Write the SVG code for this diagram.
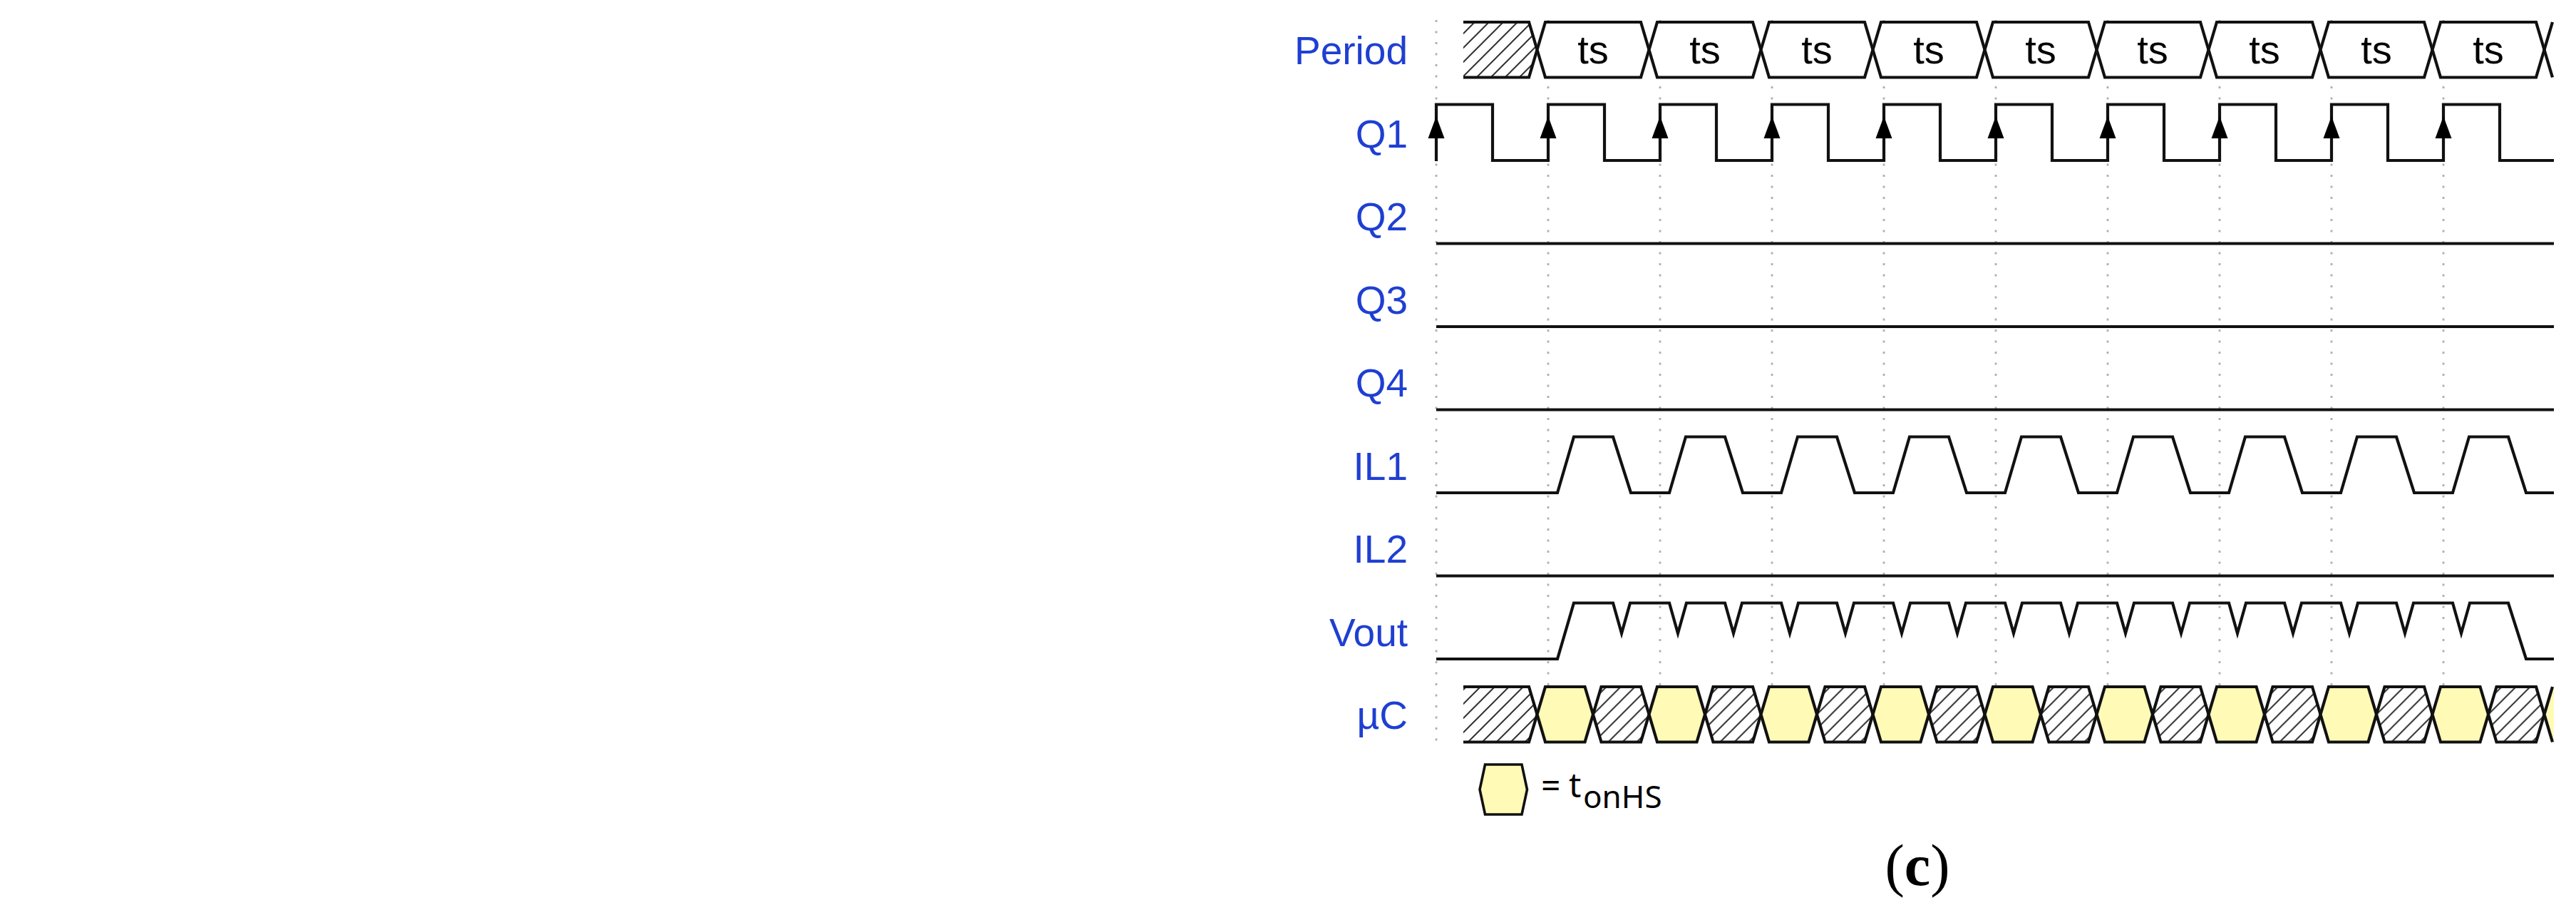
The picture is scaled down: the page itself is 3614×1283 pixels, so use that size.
<svg xmlns="http://www.w3.org/2000/svg" xmlns:xlink="http://www.w3.org/1999/xlink" width="3614" height="1283" viewBox="0 0 3614 1283">
<style>
.lbl{font-family:"Liberation Sans",Arial,sans-serif;font-size:55px;fill:#1f3fd2;text-anchor:end}
.ts{font-family:"Liberation Sans",Arial,sans-serif;font-size:56px;fill:#000;text-anchor:middle}
.grid{stroke:#b0b0b0;stroke-width:2.8;stroke-dasharray:3 12.5;fill:none}
.sig{fill:none;stroke:#111;stroke-width:4.2;stroke-linejoin:miter}
.hexw{fill:#fff;stroke:#111;stroke-width:4.2}
.hexy{fill:#fffab5;stroke:#111;stroke-width:4.2}
.hexh{fill:url(#hatch);stroke:#111;stroke-width:4.2}
.arr{fill:#000}
</style>
<defs>
<pattern id="hatch" patternUnits="userSpaceOnUse" width="20" height="20">
<rect width="20" height="20" fill="#fff"/>
<path d="M-5,5 L5,-5 M0,20 L20,0 M15,25 L25,15" stroke="#333" stroke-width="2"/>
</pattern>
<path id="bighex" d="M0,0 L11.5,-38.75 L145.5,-38.75 L157,0 L145.5,38.75 L11.5,38.75 Z"/>
<path id="smallhex" d="M0,0 L11.5,-38.75 L67,-38.75 L78.5,0 L67,38.75 L11.5,38.75 Z"/>
<path id="arrow" d="M0,0 L-11.5,31 L11.5,31 Z"/>
</defs>
<rect width="3614" height="1283" fill="#fff"/>

<g id="grid">
<path class="grid" d="M2015,28 V1042 M2172,28 V1042 M2329,28 V1042 M2486,28 V1042 M2643,28 V1042 M2800,28 V1042 M2957,28 V1042 M3114,28 V1042 M3271,28 V1042 M3428,28 V1042"/>
</g>

<g id="labels">
<text class="lbl" x="1975" y="89.5">Period</text>
<text class="lbl" x="1975" y="206.5">Q1</text>
<text class="lbl" x="1975" y="323">Q2</text>
<text class="lbl" x="1975" y="439.5">Q3</text>
<text class="lbl" x="1975" y="556">Q4</text>
<text class="lbl" x="1975" y="672.5">IL1</text>
<text class="lbl" x="1975" y="789">IL2</text>
<text class="lbl" x="1975" y="905.5">Vout</text>
<text class="lbl" x="1975" y="1021.5">µC</text>
</g>

<g id="period">
<path d="M2053,31 H2145 L2156.5,69.75 L2145,108.5 H2053 Z" fill="url(#hatch)"/>
<path class="sig" d="M2053,31 H2145 L2156.5,69.75 L2145,108.5 H2053"/>
<use href="#bighex" class="hexw" x="2156.5" y="69.75"/>
<use href="#bighex" class="hexw" x="2313.5" y="69.75"/>
<use href="#bighex" class="hexw" x="2470.5" y="69.75"/>
<use href="#bighex" class="hexw" x="2627.5" y="69.75"/>
<use href="#bighex" class="hexw" x="2784.5" y="69.75"/>
<use href="#bighex" class="hexw" x="2941.5" y="69.75"/>
<use href="#bighex" class="hexw" x="3098.5" y="69.75"/>
<use href="#bighex" class="hexw" x="3255.5" y="69.75"/>
<use href="#bighex" class="hexw" x="3412.5" y="69.75"/>
<path class="sig" d="M3581,31 L3569.5,69.75 L3581,108.5"/>
<text class="ts" x="2235" y="89">ts</text>
<text class="ts" x="2392" y="89">ts</text>
<text class="ts" x="2549" y="89">ts</text>
<text class="ts" x="2706" y="89">ts</text>
<text class="ts" x="2863" y="89">ts</text>
<text class="ts" x="3020" y="89">ts</text>
<text class="ts" x="3177" y="89">ts</text>
<text class="ts" x="3334" y="89">ts</text>
<text class="ts" x="3491" y="89">ts</text>
</g>

<g id="q1">
<path class="sig" d="M2015,226 V146.5 H2094 V225 H2172 V146.5 H2251 V225 H2329 V146.5 H2408 V225 H2486 V146.5 H2565 V225 H2643 V146.5 H2722 V225 H2800 V146.5 H2879 V225 H2957 V146.5 H3036 V225 H3114 V146.5 H3193 V225 H3271 V146.5 H3350 V225 H3428 V146.5 H3507 V225 H3583"/>
<use href="#arrow" class="arr" x="2015" y="163"/>
<use href="#arrow" class="arr" x="2172" y="163"/>
<use href="#arrow" class="arr" x="2329" y="163"/>
<use href="#arrow" class="arr" x="2486" y="163"/>
<use href="#arrow" class="arr" x="2643" y="163"/>
<use href="#arrow" class="arr" x="2800" y="163"/>
<use href="#arrow" class="arr" x="2957" y="163"/>
<use href="#arrow" class="arr" x="3114" y="163"/>
<use href="#arrow" class="arr" x="3271" y="163"/>
<use href="#arrow" class="arr" x="3428" y="163"/>
</g>

<g id="q2"><path class="sig" d="M2015,341.5 H3583"/></g>
<g id="q3"><path class="sig" d="M2015,458 H3583"/></g>
<g id="q4"><path class="sig" d="M2015,574.5 H3583"/></g>

<g id="il1">
<path class="sig" d="M2015,691 H2185 L2208,612.5 H2263 L2288,691 H2342 L2365,612.5 H2420 L2445,691 H2499 L2522,612.5 H2577 L2602,691 H2656 L2679,612.5 H2734 L2759,691 H2813 L2836,612.5 H2891 L2916,691 H2970 L2993,612.5 H3048 L3073,691 H3127 L3150,612.5 H3205 L3230,691 H3284 L3307,612.5 H3362 L3387,691 H3441 L3464,612.5 H3519 L3544,691 H3583"/>
</g>

<g id="il2"><path class="sig" d="M2015,807.5 H3583"/></g>

<g id="vout">
<path class="sig" d="M2015,924 H2185 L2208,845.5 H2263 L2275,888 L2287,845.5 H2342 L2354,888 L2366,845.5 H2420 L2432,888 L2444,845.5 H2499 L2511,888 L2523,845.5 H2577 L2589,888 L2601,845.5 H2656 L2668,888 L2680,845.5 H2734 L2746,888 L2758,845.5 H2813 L2825,888 L2837,845.5 H2891 L2903,888 L2915,845.5 H2970 L2982,888 L2994,845.5 H3048 L3060,888 L3072,845.5 H3127 L3139,888 L3151,845.5 H3205 L3217,888 L3229,845.5 H3284 L3296,888 L3308,845.5 H3362 L3374,888 L3386,845.5 H3441 L3453,888 L3465,845.5 H3519 L3544,924 H3583"/>
</g>

<g id="uc">
<path d="M2053,963 H2145 L2156.5,1001.75 L2145,1040.5 H2053 Z" fill="url(#hatch)"/>
<path class="sig" d="M2053,963 H2145 L2156.5,1001.75 L2145,1040.5 H2053"/>
<use href="#smallhex" class="hexy" x="2156.5" y="1001.75"/>
<use href="#smallhex" class="hexh" x="2235" y="1001.75"/>
<use href="#smallhex" class="hexy" x="2313.5" y="1001.75"/>
<use href="#smallhex" class="hexh" x="2392" y="1001.75"/>
<use href="#smallhex" class="hexy" x="2470.5" y="1001.75"/>
<use href="#smallhex" class="hexh" x="2549" y="1001.75"/>
<use href="#smallhex" class="hexy" x="2627.5" y="1001.75"/>
<use href="#smallhex" class="hexh" x="2706" y="1001.75"/>
<use href="#smallhex" class="hexy" x="2784.5" y="1001.75"/>
<use href="#smallhex" class="hexh" x="2863" y="1001.75"/>
<use href="#smallhex" class="hexy" x="2941.5" y="1001.75"/>
<use href="#smallhex" class="hexh" x="3020" y="1001.75"/>
<use href="#smallhex" class="hexy" x="3098.5" y="1001.75"/>
<use href="#smallhex" class="hexh" x="3177" y="1001.75"/>
<use href="#smallhex" class="hexy" x="3255.5" y="1001.75"/>
<use href="#smallhex" class="hexh" x="3334" y="1001.75"/>
<use href="#smallhex" class="hexy" x="3412.5" y="1001.75"/>
<use href="#smallhex" class="hexh" x="3491" y="1001.75"/>
<path d="M3569.5,1001.75 L3581,963 H3583 V1040.5 H3581 Z" fill="#fffab5"/>
<path class="sig" d="M3581,963 L3569.5,1001.75 L3581,1040.5"/>
</g>

<g id="legend">
<path d="M2083.5,1072 H2135 L2142.5,1107 L2135,1142 H2083.5 L2076,1107 Z" fill="#fffab5" stroke="#111" stroke-width="3.6"/>
<text font-family="'Noto Sans','Open Sans',sans-serif" fill="#000"><tspan x="2162" y="1118" font-size="48">=</tspan><tspan x="2201" y="1118" font-size="48">t</tspan><tspan x="2221" y="1132.5" font-size="44">onHS</tspan></text>
</g>

<g id="caption">
<text x="2690" y="1241" font-family="'Liberation Serif','Times New Roman',serif" font-size="82" text-anchor="middle" fill="#000">(<tspan font-weight="bold">c</tspan>)</text>
</g>
</svg>
